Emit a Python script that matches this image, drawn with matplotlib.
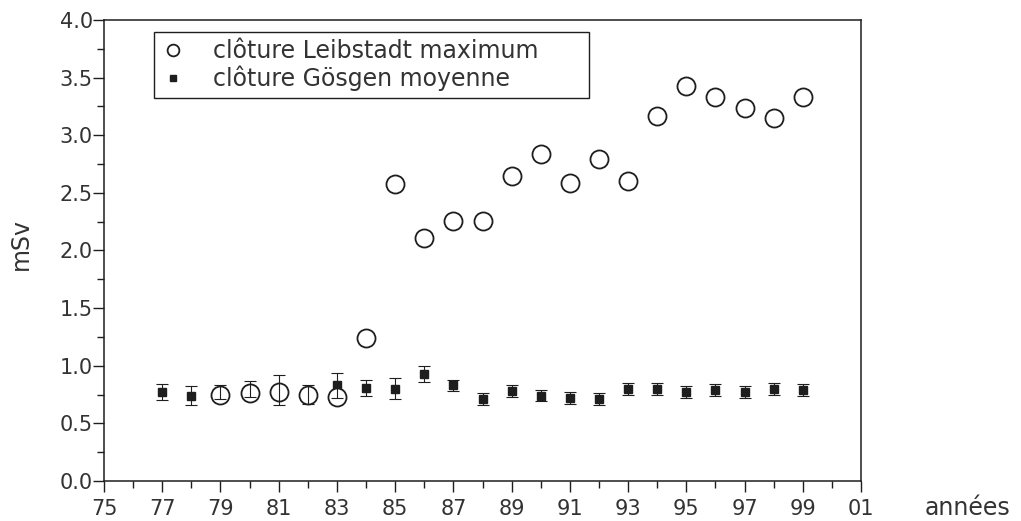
import matplotlib
matplotlib.use('Agg')
import matplotlib.pyplot as plt
from matplotlib.ticker import MultipleLocator, FixedLocator, FuncFormatter

plt.rcParams['font.family'] = ['DejaVu Sans']

# clôture Leibstadt maximum (mSv)
years_leib = [79, 80, 81, 82, 83, 84, 85, 86, 87, 88, 89, 90,
              91, 92, 93, 94, 95, 96, 97, 98, 99]
leib_max = [0.75, 0.76, 0.77, 0.75, 0.73, 1.24, 2.58, 2.11, 2.26, 2.26, 2.65, 2.84,
            2.59, 2.79, 2.60, 3.17, 3.43, 3.33, 3.24, 3.15, 3.33]

# clôture Gösgen moyenne (mSv) avec barres d'erreur
years_goes = [77, 78, 79, 80, 81, 82, 83, 84, 85, 86, 87, 88,
              89, 90, 91, 92, 93, 94, 95, 96, 97, 98, 99]
goes_mean = [0.77, 0.74, 0.77, 0.80, 0.79, 0.75, 0.83, 0.81, 0.80, 0.93, 0.83, 0.71,
             0.78, 0.74, 0.72, 0.71, 0.80, 0.80, 0.77, 0.79, 0.77, 0.80, 0.79]
goes_err = [0.07, 0.08, 0.06, 0.07, 0.13, 0.085, 0.11, 0.07, 0.09, 0.07, 0.05, 0.05,
            0.05, 0.05, 0.05, 0.05, 0.05, 0.05, 0.05, 0.05, 0.05, 0.05, 0.05]

x_ticks = list(range(75, 102, 2))
x_labels = ['75', '77', '79', '81', '83', '85', '87', '89', '91', '93', '95', '97', '99', '01']

ink = '#1e1e1e'
fig = plt.figure(figsize=(10.21, 5.21), dpi=100)
ax = fig.add_axes([0.1019, 0.0768, 0.7414, 0.8848])

ax.plot(years_goes, goes_mean, ls='none', marker='s', ms=6, color=ink,
        mec=ink, zorder=2, label='clôture Gösgen moyenne')
ax.plot(years_leib, leib_max, ls='none', marker='o', ms=13, mfc='white',
        mec=ink, mew=1.3, zorder=3, label='clôture Leibstadt maximum')
ax.errorbar(years_goes, goes_mean, yerr=goes_err, fmt='none', ecolor=ink,
            elinewidth=0.8, capsize=4, capthick=0.8, zorder=4)

ax.set_xlim(75, 101)
ax.set_ylim(0, 4.0)
ax.xaxis.set_major_locator(FixedLocator(x_ticks))
ax.set_xticklabels(x_labels)
ax.xaxis.set_minor_locator(MultipleLocator(1))
ax.yaxis.set_major_locator(MultipleLocator(0.5))
ax.yaxis.set_minor_locator(MultipleLocator(0.25))
ax.yaxis.set_major_formatter(FuncFormatter(lambda v, p: f"{v:.1f}"))

ax.tick_params(which='both', direction='out', top=False, right=False,
               colors=ink, labelcolor='#333333', width=1.0)
ax.tick_params(which='major', length=8, labelsize=15)
ax.tick_params(which='minor', length=5)
ax.tick_params(axis='y', which='major', pad=0)
ax.tick_params(axis='x', which='major', pad=5)
for s in ax.spines.values():
    s.set_linewidth(1.1)
    s.set_color(ink)

ax.text(1.141, -0.059, 'années', transform=ax.transAxes, ha='center',
        va='center', fontsize=17, color='#333333')
ax.text(-0.11, 0.515, 'mSv', transform=ax.transAxes, ha='center',
        va='center', rotation=90, fontsize=17, color='#333333')

h, l = ax.get_legend_handles_labels()
leg = ax.legend(h[::-1], l[::-1], loc='upper left',
                bbox_to_anchor=(0.066, 0.811, 0.5746, 0.163), mode='expand',
                borderaxespad=0, fancybox=False, edgecolor=ink, framealpha=1,
                fontsize=17, markerscale=0.65, handlelength=1.0,
                handletextpad=1.2, labelspacing=0.1, borderpad=0.3)
leg.get_frame().set_linewidth(1.0)
for t in leg.get_texts():
    t.set_color('#333333')

fig.savefig('out.png', dpi=100)
